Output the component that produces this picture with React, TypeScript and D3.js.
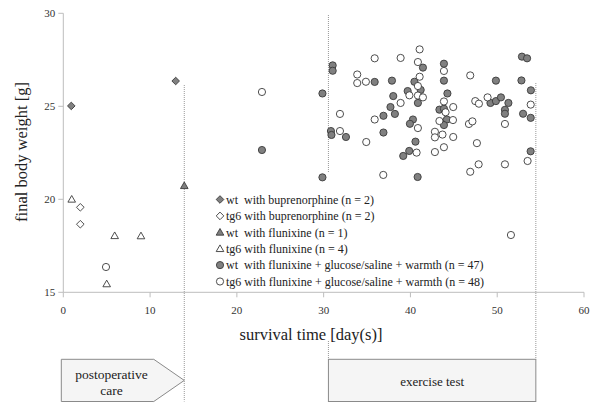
import React from "react";
import * as d3 from "d3";

const W = 600, H = 411;

// wt with buprenorphine
const wtBupX = [0.92, 12.95];
const wtBupY = [25.02, 26.36];
// tg6 with buprenorphine
const tgBupX = [1.96, 1.96];
const tgBupY = [19.57, 18.66];
// wt with flunixine
const wtFluX = [13.94];
const wtFluY = [20.73];
// tg6 with flunixine
const tgFluX = [0.97, 5.92, 8.95, 5.0];
const tgFluY = [20.0, 18.04, 18.03, 15.45];
// wt with flunixine + glucose/saline + warmth (n = 47)
const wtAllX = [22.89, 29.86, 29.86, 31.04, 31.04, 30.84, 30.9, 32.57, 35.88, 37.87, 40.46, 41.44, 41.18, 39.68, 38.02, 40.86, 37.7, 38.21, 36.89, 40.29, 39.94, 36.89, 40.58, 39.86, 39.17, 40.83, 43.86, 43.86, 44.26, 43.34, 43.86, 44.2, 43.86, 49.22, 49.85, 50.43, 51.29, 50.89, 50.89, 49.85, 52.85, 53.44, 52.79, 53.88, 52.98, 53.86, 53.85];
const wtAllY = [22.65, 25.69, 21.18, 27.2, 26.91, 23.67, 23.46, 23.35, 26.31, 26.38, 26.32, 27.08, 25.88, 25.82, 25.55, 25.18, 24.96, 24.59, 24.49, 24.29, 24.06, 23.59, 23.1, 22.6, 22.33, 21.2, 27.29, 26.38, 25.69, 24.82, 24.87, 24.29, 23.99, 25.18, 25.28, 25.48, 25.18, 24.81, 24.6, 26.38, 27.67, 27.58, 26.39, 25.86, 24.6, 24.38, 22.58];
// tg6 with flunixine + glucose/saline + warmth (n = 48)
const tgAllX = [4.92, 22.89, 35.88, 38.87, 41.06, 40.86, 33.87, 33.87, 34.87, 41.06, 40.86, 39.88, 40.86, 41.44, 38.87, 31.88, 35.88, 40.86, 31.88, 34.91, 36.87, 40.71, 43.86, 43.86, 44.05, 44.93, 43.34, 44.9, 42.82, 42.82, 43.69, 44.93, 42.82, 43.86, 46.89, 47.47, 47.89, 48.89, 50.89, 46.74, 47.14, 47.66, 47.86, 46.89, 50.89, 53.86, 53.5, 51.58];
const tgAllY = [16.36, 25.77, 27.58, 27.6, 28.06, 27.38, 26.71, 26.25, 26.32, 26.59, 26.09, 25.59, 25.58, 25.48, 25.18, 24.59, 24.29, 23.83, 23.67, 23.08, 21.31, 22.51, 26.9, 25.26, 24.68, 24.96, 24.21, 24.26, 23.63, 23.33, 23.48, 23.35, 22.54, 22.8, 26.66, 25.28, 25.14, 25.48, 24.05, 24.05, 24.19, 23.02, 21.88, 21.48, 21.88, 25.09, 22.06, 18.08];

const xTicks = [0, 10, 20, 30, 40, 50, 60];
const yTicks = [15, 20, 25, 30];

const legendLabels = [
  "wt  with buprenorphine (n = 2)",
  "tg6 with buprenorphine (n = 2)",
  "wt  with flunixine (n = 1)",
  "tg6 with flunixine (n = 4)",
  "wt  with flunixine + glucose/saline + warmth (n = 47)",
  "tg6 with flunixine + glucose/saline + warmth (n = 48)",
];

// phase boundaries (days)
const postopEnd = 13.94;
const exerciseStart = 30.55;
const exerciseEnd = 54.45;

const FILL = "#808080";
const STROKE = "#3a3a3a";
const FONT = "'Liberation Serif', 'Times New Roman', serif";

function Marker({ shape, filled, x, y }: { shape: string; filled: boolean; x: number; y: number }) {
  const fill = filled ? FILL : "#fff";
  if (shape === "circle") return <circle cx={x} cy={y} r={3.6} fill={fill} stroke={STROKE} strokeWidth={0.9} />;
  if (shape === "diamond") {
    const s = 3.8;
    return <path d={`M${x},${y - s}L${x + s},${y}L${x},${y + s}L${x - s},${y}Z`} fill={fill} stroke={STROKE} strokeWidth={0.9} />;
  }
  const s = 3.8;
  return <path d={`M${x},${y - s}L${x + s},${y + s * 0.75}L${x - s},${y + s * 0.75}Z`} fill={fill} stroke={STROKE} strokeWidth={0.9} />;
}

export default function App() {
  const xScale = d3.scaleLinear().domain([0, 60]).range([63.3, 584]);
  const yScale = d3.scaleLinear().domain([15, 30]).range([292.3, 13.3]);

  const series = [
    { xs: wtBupX, ys: wtBupY, shape: "diamond", filled: true },
    { xs: tgBupX, ys: tgBupY, shape: "diamond", filled: false },
    { xs: wtFluX, ys: wtFluY, shape: "triangle", filled: true },
    { xs: tgFluX, ys: tgFluY, shape: "triangle", filled: false },
    { xs: wtAllX, ys: wtAllY, shape: "circle", filled: true },
    { xs: tgAllX, ys: tgAllY, shape: "circle", filled: false },
  ];

  const x0 = xScale(0);
  const yBottom = yScale(15);
  const boxTop = 359.3, boxBot = 401.5, boxMid = (boxTop + boxBot) / 2;
  const px = xScale(postopEnd);
  const ex0 = xScale(exerciseStart), ex1 = xScale(exerciseEnd);

  const legX = 220, legY0 = 199.5, legDY = 16.4;

  return (
    <svg width={W} height={H} style={{ position: "absolute", left: 0, top: 0, background: "#fff" }} fontFamily={FONT}>
      <rect width={W} height={H} fill="#fff" />
      {/* dotted phase lines */}
      <g stroke="#999" strokeWidth={1} strokeDasharray="1,1" fill="none">
        <line x1={px} x2={px} y1={85} y2={boxBot} />
        <line x1={ex0} x2={ex0} y1={15} y2={173} />
        <line x1={ex0} x2={ex0} y1={341} y2={boxTop} />
        <line x1={ex1} x2={ex1} y1={83} y2={boxTop} />
      </g>
      {/* axes */}
      <g stroke="#bdbdbd" strokeWidth={1}>
        <line x1={x0} x2={x0} y1={yScale(30)} y2={yBottom} />
        <line x1={x0} x2={xScale(60)} y1={yBottom} y2={yBottom} />
        {yTicks.map((t) => (
          <line key={"yt" + t} x1={x0 - 5} x2={x0} y1={yScale(t)} y2={yScale(t)} />
        ))}
        {xTicks.map((t) => (
          <line key={"xt" + t} x1={xScale(t)} x2={xScale(t)} y1={yBottom} y2={yBottom + 5} />
        ))}
      </g>
      <g fontSize={11} fill="#333">
        {yTicks.map((t) => (
          <text key={"yl" + t} x={x0 - 8} y={yScale(t)} dy="0.35em" textAnchor="end">{t}</text>
        ))}
        {xTicks.map((t) => (
          <text key={"xl" + t} x={xScale(t)} y={yBottom + 22} textAnchor="middle">{t}</text>
        ))}
      </g>
      <text x={311} y={340} fontSize={16.5} textAnchor="middle" fill="#222">survival time [day(s)]</text>
      <text transform={`translate(27,152) rotate(-90)`} fontSize={16.5} textAnchor="middle" fill="#222">final body weight [g]</text>

      {/* data */}
      {series.map((s, i) => (
        <g key={"s" + i}>
          {s.xs.map((v, j) => (
            <Marker key={j} shape={s.shape} filled={s.filled} x={xScale(v)} y={yScale(s.ys[j])} />
          ))}
        </g>
      ))}

      {/* legend */}
      {series.map((s, i) => (
        <g key={"l" + i}>
          <Marker shape={s.shape} filled={s.filled} x={legX} y={legY0 + i * legDY} />
          <text x={legX + 6} y={legY0 + i * legDY} dy="0.35em" fontSize={12} fill="#222" style={{ whiteSpace: "pre" }}>
            {legendLabels[i]}
          </text>
        </g>
      ))}

      {/* phase boxes */}
      <path
        d={`M${x0 - 2},${boxTop}L${xScale(postopEnd) - 30.5},${boxTop}L${px},${boxMid}L${xScale(postopEnd) - 30.5},${boxBot}L${x0 - 2},${boxBot}Z`}
        fill="#f5f5f5" stroke="#8a8a8a" strokeWidth={1}
      />
      <text x={111.5} y={374} dy="0.35em" fontSize={13.5} textAnchor="middle" fill="#222">postoperative</text>
      <text x={111.5} y={390} dy="0.35em" fontSize={13.5} textAnchor="middle" fill="#222">care</text>
      <rect x={ex0} y={boxTop} width={ex1 - ex0} height={boxBot - boxTop} fill="#f5f5f5" stroke="#8a8a8a" strokeWidth={1} />
      <text x={(ex0 + ex1) / 2} y={boxMid + 1.5} dy="0.35em" fontSize={13} textAnchor="middle" fill="#222">exercise test</text>
    </svg>
  );
}
